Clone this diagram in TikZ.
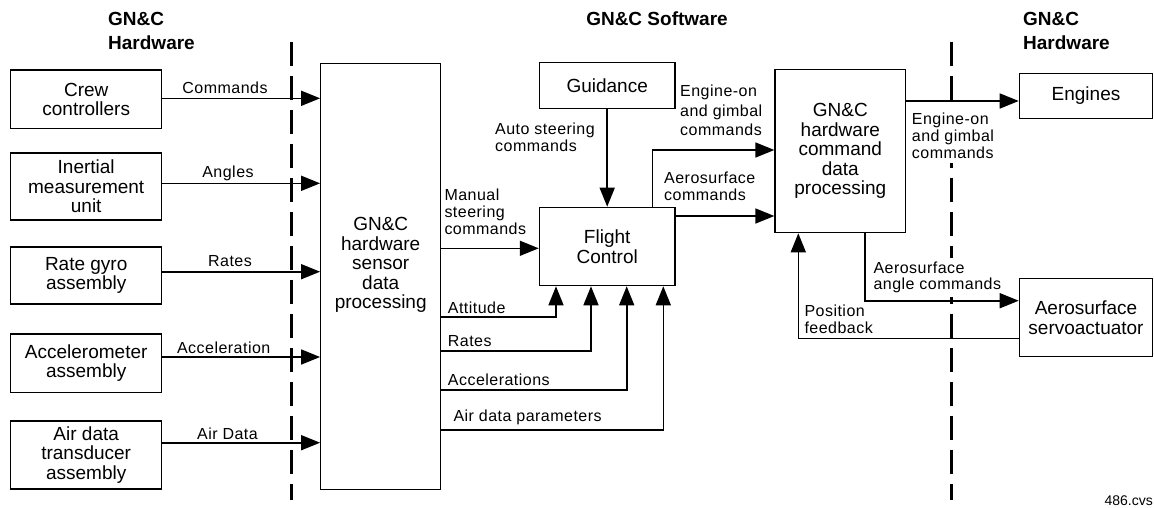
\documentclass[tikz,border=0pt]{standalone}
\usepackage{fontspec}
\setmainfont{Liberation Sans}
\newfontfamily\lblfont[LetterSpace=3]{Liberation Sans}
\usetikzlibrary{arrows.meta}
\begin{document}
\begin{tikzpicture}[x=1pt,y=-1pt,
  box/.style={draw, line width=1.2pt, inner sep=0pt, align=center, font=\fontsize{19}{19.5}\selectfont},
  lbl/.style={inner sep=0pt, align=left, font=\lblfont\fontsize{16}{17}\selectfont},
  lblw/.style={lbl, fill=white, inner sep=4pt},
  head/.style={inner sep=0pt, align=left, font=\bfseries\fontsize{19}{24}\selectfont},
  arr/.style={line width=1.6pt, -{Triangle[length=19pt,width=15pt]}},
  dashline/.style={line width=3pt, dash pattern=on 24pt off 10pt}]
\useasboundingbox (0,0) rectangle (1154,507);

% headings
\node[head, anchor=west] (hl) at (108,31) {GN\&C\\Hardware};
\node[head] (hs) at (657,19) {GN\&C Software};
\node[head, anchor=west] (hr) at (1023,31) {GN\&C\\Hardware};

% dashed boundaries
\coordinate (d1t) at (291,41.7); \coordinate (d1b) at (291,500);
\coordinate (d2t) at (951,41.7); \coordinate (d2b) at (951,500);
\draw[dashline] (d1t) -- (d1b);
\draw[dashline] (d2t) -- (d2b);

% left hardware boxes
\node[box, minimum width=151pt, minimum height=58.7pt] (crew) at (86.2,99.3) {Crew\\controllers};
\node[box, minimum width=151pt, minimum height=67pt] (imu) at (86.2,186.5) {Inertial\\measurement\\unit};
\node[box, minimum width=151pt, minimum height=57pt] (rgyro) at (86.2,275.5) {Rate gyro\\assembly};
\node[box, minimum width=151pt, minimum height=58.7pt] (accel) at (86.2,363.3) {Accelerometer\\assembly};
\node[box, minimum width=151pt, minimum height=68pt] (airdata) at (86.2,455) {Air data\\transducer\\assembly};

% sensor processing box
\node[box, minimum width=120pt, minimum height=426pt] (sensor) at (380.7,276.3) {};
\node[inner sep=0pt, align=center, font=\fontsize{19}{19.5}\selectfont] (sensortxt) at (380.7,265) {GN\&C\\hardware\\sensor\\data\\processing};

% software boxes
\node[box, minimum width=135.7pt, minimum height=46pt] (guid) at (607.2,85.3) {Guidance};
\node[box, minimum width=135.7pt, minimum height=78.4pt] (fc) at (607.2,246.5) {Flight\\Control};
\node[box, minimum width=130.7pt, minimum height=163.4pt] (cmd) at (840.3,151) {GN\&C\\hardware\\command\\data\\processing};

% right hardware boxes
\node[box, minimum width=133.4pt, minimum height=45pt] (eng) at (1086,95.8) {Engines};
\node[box, minimum width=133.4pt, minimum height=78.4pt] (servo) at (1086,317.5) {Aerosurface\\servoactuator};

% labels (white-backed ones interrupt the dashed boundary)
\node[lbl] (lcmd) at (225,88) {Commands};
\node[lbl] (lang) at (228,173) {Angles};
\node[lbl] (lrat) at (230,261) {Rates};
\node[lbl] (lacc) at (223.7,348) {Acceleration};
\node[lbl] (lair) at (227.5,434) {Air Data};
\node[lbl, anchor=west] (lauto) at (495,137.5) {Auto steering\\commands};
\node[lbl, anchor=west] (lman) at (444.3,211.7) {Manual\\steering\\commands};
\node[lbl, anchor=west] (latt) at (447.7,308) {Attitude};
\node[lbl, anchor=west] (lrat2) at (447.7,340.7) {Rates};
\node[lbl, anchor=west] (lacc2) at (447.7,379.3) {Accelerations};
\node[lbl, anchor=west] (ladp) at (453.3,417.7) {Air data parameters};
\node[lbl, anchor=west] (laero) at (664,186) {Aerosurface\\commands};
\node[lbl, anchor=west, font=\lblfont\fontsize{16}{19.5}\selectfont] (leng1) at (680,110.5) {Engine-on\\and gimbal\\commands};
\node[lblw, anchor=west] (leng2) at (907.7,136) {Engine-on\\and gimbal\\commands};
\node[lblw, anchor=west, font=\lblfont\fontsize{16}{15.5}\selectfont] (lang2) at (869.3,277.5) {Aerosurface\\angle commands};
\node[lbl, anchor=west] (lpos) at (804.3,319.5) {Position\\feedback};

% input arrows to sensor box
\coordinate (y1) at (0,98.3);
\coordinate (y2) at (0,183.3);
\coordinate (y3) at (0,271.7);
\coordinate (y4) at (0,357);
\coordinate (y5) at (0,442.7);
\draw[arr] (crew.east |- y1) -- (sensor.west |- y1);
\draw[arr] (imu.east |- y2) -- (sensor.west |- y2);
\draw[arr] (rgyro.east |- y3) -- (sensor.west |- y3);
\draw[arr] (accel.east |- y4) -- (sensor.west |- y4);
\draw[arr] (airdata.east |- y5) -- (sensor.west |- y5);

% guidance to flight control
\draw[arr] (guid) -- (fc);

% manual steering
\coordinate (ym) at (0,248.3);
\draw[arr] (sensor.east |- ym) -- (fc.west |- ym);

% sensor outputs to flight control bottom
\coordinate (pa) at (556,316.7);
\coordinate (pr) at (591,350.7);
\coordinate (pc) at (626.7,390);
\coordinate (pd) at (663.3,430);
\draw[arr] (sensor.east |- pa) -| (fc.south -| pa);
\draw[arr] (sensor.east |- pr) -| (fc.south -| pr);
\draw[arr] (sensor.east |- pc) -| (fc.south -| pc);
\draw[arr] (sensor.east |- pd) -| (fc.south -| pd);

% flight control outputs
\coordinate (ya) at (0,216);
\draw[arr] (fc.east |- ya) -- (cmd.west |- ya);
\coordinate (pe) at (652.3,150);
\draw[arr] (fc.north -| pe) |- (cmd.west |- pe);

% command box outputs
\coordinate (ye) at (0,101);
\draw[arr] (cmd.east |- ye) -- (eng.west |- ye);
\coordinate (ps) at (865,300.7);
\draw[arr] (cmd.south -| ps) |- (servo.west |- ps);
\coordinate (pf) at (798.3,338.3);
\draw[arr] (servo.west |- pf) -| (cmd.south -| pf);

% figure id
\node[inner sep=0pt, anchor=base east, font=\fontsize{14}{14}\selectfont] (fid) at (1153,505) {486.cvs};
\end{tikzpicture}
\end{document}
